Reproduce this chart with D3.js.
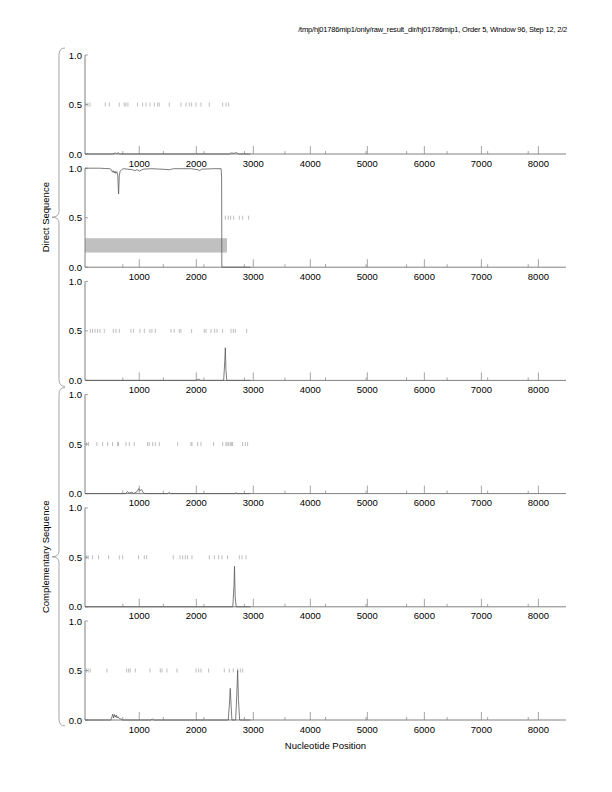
<!DOCTYPE html>
<html>
<head>
<meta charset="utf-8">
<script src="https://cdn.jsdelivr.net/npm/d3@7"></script>
<style>
  body { margin: 0; background: #fff; }
  text { font-family: "Liberation Sans", Helvetica, Arial, sans-serif; fill: #000; }
</style>
</head>
<body>
<svg id="chart" width="612" height="792"></svg>
<script>
/*global d3*/
// sequence range shown on the x axis (window 96, half window at each end)
var seqRange = [48, 8484];
var xMajor = [1000, 2000, 3000, 4000, 5000, 6000, 7000, 8000];
var xMinor = [711, 1422, 2133, 2844, 3555, 4266, 4977, 5688, 6399, 7110, 7821];
var yTicks = [0, 0.5, 1];
var yLabels = ["0.0", "0.5", "1.0"];
var groupNames = ["Direct Sequence", "Complementary Sequence"];
var titleText = "/tmp/hj01786mip1/only/raw_result_dir/hj01786mip1, Order 5, Window 96, Step 12, 2/2";

// stop codons, one list per frame
var stops1 = [64, 99, 135, 404, 474, 649, 737, 766, 801, 971, 1058, 1117, 1187, 1263, 1322, 1351,
  1526, 1731, 1819, 1877, 1918, 1994, 2082, 2228, 2462, 2520, 2567];
var stops2 = [2509, 2561, 2602, 2655, 2754, 2813, 2918];
var stops3 = [140, 181, 223, 269, 311, 386, 544, 591, 649, 854, 900, 1012, 1088, 1187, 1222, 1281,
  1556, 1614, 1702, 1731, 1918, 2140, 2170, 2258, 2321, 2363, 2462, 2609, 2649, 2684, 2883];
var stops4 = [76, 111, 257, 357, 444, 532, 619, 637, 766, 825, 912, 1146, 1175, 1234, 1281, 1351,
  1673, 1906, 1924, 2023, 2082, 2303, 2462, 2520, 2538, 2567, 2596, 2620, 2637, 2813, 2860, 2900];
var stops5 = [76, 105, 181, 286, 462, 649, 708, 988, 1088, 1129, 1596, 1714, 1760, 1807, 1848, 1924,
  2228, 2316, 2392, 2450, 2549, 2754, 2801, 2871];
var stops6 = [76, 105, 140, 433, 778, 813, 842, 930, 1187, 1368, 1398, 1485, 1661, 1994, 2041, 2082,
  2216, 2491, 2579, 2649, 2725, 2772, 2813];

// coding potential, [position, probability]
var prob1 = [[48, 0], [540, 0], [580, 0.01], [600, 0.004], [630, 0.012], [660, 0], [2580, 0],
  [2620, 0.012], [2660, 0.005], [2700, 0.015], [2740, 0], [2950, 0]];
var prob2 = [[48, 1], [300, 1], [480, 0.995], [510, 0.985], [530, 0.96], [545, 0.975], [560, 0.952],
  [575, 0.97], [590, 0.948], [605, 0.965], [622, 0.93], [637, 0.74], [650, 0.93], [665, 0.97],
  [690, 0.985], [720, 0.995], [800, 0.99], [880, 0.985], [920, 0.975], [960, 0.985], [1000, 0.97],
  [1030, 0.98], [1070, 0.99], [1200, 0.995], [1400, 0.99], [1530, 0.985], [1600, 0.995],
  [1900, 0.995], [2030, 0.985], [2060, 0.975], [2090, 0.99], [2300, 0.995], [2436, 0.995],
  [2444, 0.9], [2448, 0], [2950, 0]];
var prob3 = [[48, 0], [1990, 0], [2040, 0.012], [2080, 0], [2480, 0], [2500, 0.2], [2509, 0.33],
  [2520, 0.1], [2535, 0], [2950, 0]];
var prob4 = [[48, 0], [760, 0], [790, 0.02], [820, 0.005], [870, 0.015], [900, 0], [960, 0.02],
  [990, 0.05], [1010, 0.03], [1040, 0.04], [1070, 0.01], [1100, 0], [1500, 0], [1520, 0.012],
  [1550, 0], [2680, 0], [2700, 0.01], [2720, 0], [2950, 0]];
var prob5 = [[48, 0], [2640, 0], [2660, 0.2], [2670, 0.41], [2682, 0.1], [2700, 0], [2950, 0]];
var prob6 = [[48, 0], [500, 0], [520, 0.03], [535, 0.06], [550, 0.02], [565, 0.055], [580, 0.03],
  [595, 0.05], [610, 0.02], [625, 0.035], [650, 0.015], [680, 0.01], [700, 0], [1200, 0],
  [1230, 0.01], [1260, 0], [2560, 0], [2580, 0.15], [2596, 0.32], [2610, 0.15], [2625, 0],
  [2690, 0], [2710, 0.25], [2725, 0.5], [2740, 0.2], [2760, 0], [2950, 0]];

// predicted genes, [frame index, start, end]
var genes = [[1, 48, 2538]];

(function () {
   "use strict";

   var svg = d3.select("#chart"),
      left = 85,
      right = 566,
      firstTop = 55,
      panelStep = 113.2,
      panelH = 99,
      stops = [stops1, stops2, stops3, stops4, stops5, stops6],
      probs = [prob1, prob2, prob3, prob4, prob5, prob6],
      x = d3.scaleLinear().domain(seqRange).range([left, right]),
      y = d3.scaleLinear().domain([0, 1]).range([panelH, 0]),
      axisColor = "#808080",
      line = d3.line().x(function (d) { return x(d[0]); }).y(function (d) { return y(d[1]); });

   //title
   svg.append("text")
      .attr("x", right + 1)
      .attr("y", 32)
      .attr("text-anchor", "end")
      .style("font-size", "7.5px")
      .style("letter-spacing", "-0.2px")
      .text(titleText);

   stops.forEach(function (frameStops, i) {
      var g = svg.append("g").attr("transform", "translate(0," + (firstTop + i * panelStep) + ")");

      //gene band
      g.selectAll("rect.gene")
         .data(genes.filter(function (d) { return d[0] === i; }))
         .enter().append("rect")
         .attr("class", "gene")
         .attr("x", function (d) { return x(d[1]); })
         .attr("width", function (d) { return x(d[2]) - x(d[1]); })
         .attr("y", y(0.293))
         .attr("height", y(0.148) - y(0.293))
         .attr("fill", "#c0c0c0");

      //stop codons at 0.5
      g.selectAll("line.stop")
         .data(frameStops)
         .enter().append("line")
         .attr("class", "stop")
         .attr("x1", function (d) { return x(d); })
         .attr("x2", function (d) { return x(d); })
         .attr("y1", y(0.5) - 2)
         .attr("y2", y(0.5) + 2)
         .attr("stroke", "#a0a0a0")
         .attr("stroke-width", 0.7);

      //x axis, ticks pointing up
      var xa = g.append("g").attr("transform", "translate(0," + panelH + ")");
      xa.append("line")
         .attr("x1", left).attr("x2", right)
         .attr("stroke", axisColor).attr("stroke-width", 1);
      xa.selectAll("line.major").data(xMajor).enter().append("line")
         .attr("x1", x).attr("x2", x).attr("y1", 0).attr("y2", -8)
         .attr("stroke", axisColor).attr("stroke-width", 0.7);
      xa.selectAll("line.minor").data(xMinor).enter().append("line")
         .attr("x1", x).attr("x2", x).attr("y1", 0).attr("y2", -3)
         .attr("stroke", axisColor).attr("stroke-width", 0.7);
      xa.selectAll("text").data(xMajor).enter().append("text")
         .attr("x", x).attr("y", 12.5)
         .attr("text-anchor", "middle")
         .style("font-size", "9.5px")
         .text(function (d) { return d; });

      //y axis
      g.append("line")
         .attr("x1", left).attr("x2", left).attr("y1", y(0)).attr("y2", y(1))
         .attr("stroke", axisColor).attr("stroke-width", 1);
      g.selectAll("line.ytick").data(yTicks).enter().append("line")
         .attr("x1", left).attr("x2", left + 3)
         .attr("y1", y).attr("y2", y)
         .attr("stroke", axisColor).attr("stroke-width", 0.7);
      g.selectAll("text.ylab").data(yTicks).enter().append("text")
         .attr("x", left - 3).attr("y", function (d) { return y(d) + 3.5; })
         .attr("text-anchor", "end")
         .style("font-size", "9.5px")
         .text(function (d, j) { return yLabels[j]; });

      //coding potential
      g.append("path")
         .datum(probs[i])
         .attr("d", line)
         .attr("fill", "none")
         .attr("stroke", "#5a5a5a")
         .attr("stroke-width", 0.8);
   });

   //braces and group labels
   groupNames.forEach(function (name, k) {
      var y0 = firstTop + k * 3 * panelStep - 7,
         y1 = firstTop + (k * 3 + 2) * panelStep + panelH + 6,
         ym = (y0 + y1) / 2,
         xv = 59,
         xe = 65,
         xt = 52,
         p = d3.path();
      p.moveTo(xe, y0);
      p.quadraticCurveTo(xv, y0, xv, y0 + 7);
      p.lineTo(xv, ym - 6);
      p.quadraticCurveTo(xv, ym, xt, ym);
      p.quadraticCurveTo(xv, ym, xv, ym + 6);
      p.lineTo(xv, y1 - 7);
      p.quadraticCurveTo(xv, y1, xe, y1);
      svg.append("path")
         .attr("d", p.toString())
         .attr("fill", "none")
         .attr("stroke", "#909090")
         .attr("stroke-width", 0.8);
      svg.append("text")
         .attr("transform", "translate(49," + ym + ") rotate(-90)")
         .attr("text-anchor", "middle")
         .style("font-size", "9.5px")
         .text(name);
   });

   //x label
   svg.append("text")
      .attr("x", (left + right) / 2)
      .attr("y", 749)
      .attr("text-anchor", "middle")
      .style("font-size", "9.5px")
      .text("Nucleotide Position");
}());
</script>
</body>
</html>
